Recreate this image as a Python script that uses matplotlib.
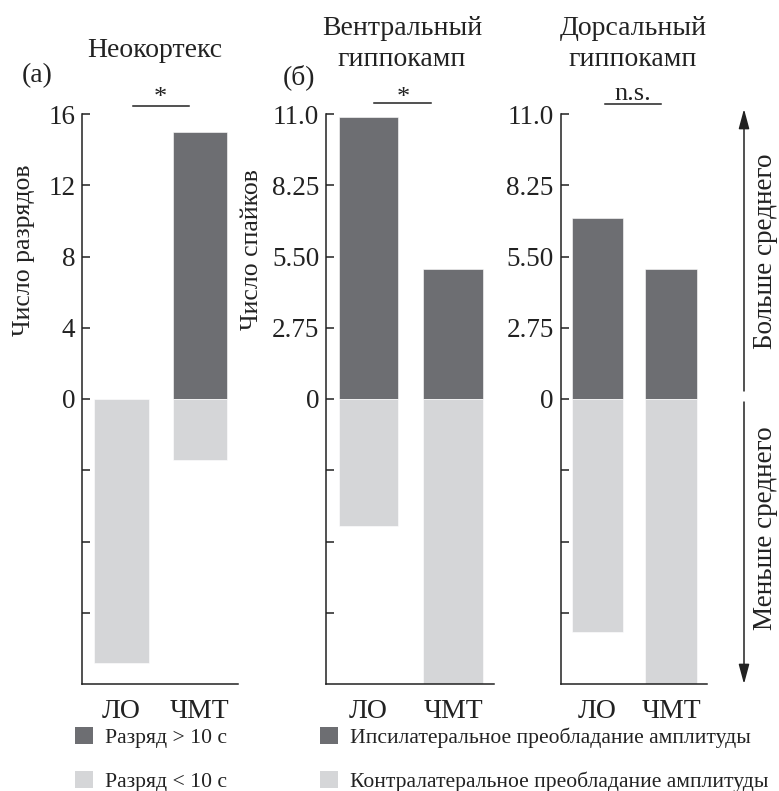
import matplotlib
matplotlib.use("Agg")
import matplotlib.pyplot as plt
from matplotlib.patches import Patch, FancyArrowPatch

plt.rcParams['font.family'] = ['Liberation Serif', 'DejaVu Serif']

# ---- data ----
groups = ['ЛО', 'ЧМТ']
neo_pos = [0, 15]          # разряд > 10 с
neo_neg = [-14.8, -3.4]    # разряд < 10 с
vent_pos = [10.9, 5.0]     # ипсилатеральное
vent_neg = [-4.9, -11.0]   # контралатеральное
dors_pos = [7.0, 5.0]
dors_neg = [-9.0, -11.0]

neo_ticks = [-12, -8, -4, 0, 4, 8, 12, 16]
neo_ticklabels = ['', '', '', '0', '4', '8', '12', '16']
hip_ticks = [-8.25, -5.5, -2.75, 0, 2.75, 5.5, 8.25, 11.0]
hip_ticklabels = ['', '', '', '0', '2.75', '5.50', '8.25', '11.0']

titles = ['Неокортекс', 'Вентральный\nгиппокамп', 'Дорсальный\nгиппокамп']
signif = ['*', '*', 'n.s.']
legend1 = ['Разряд > 10 с', 'Разряд < 10 с']
legend2 = ['Ипсилатеральное преобладание амплитуды',
           'Контралатеральное преобладание амплитуды']

DARK = '#6d6e72'
LIGHT = '#d5d6d8'
INK = '#222222'

W, H = 779, 791
fig = plt.figure(figsize=(W / 100, H / 100), dpi=100)


def fx(x):
    return x / W


def fy(y):
    return 1 - y / H


TOP, BOT = 114, 684
XL = (-0.5, 1.485)


def make_ax(center0, spacing):
    left = center0 - 0.5 * spacing
    width = (XL[1] - XL[0]) * spacing
    return fig.add_axes([fx(left), fy(BOT), width / W, (BOT - TOP) / H])


axes = [make_ax(121.5, 78.5), make_ax(368.5, 84.5), make_ax(597.5, 73.5)]
data = [(neo_pos, neo_neg, 16, neo_ticks, neo_ticklabels),
        (vent_pos, vent_neg, 11, hip_ticks, hip_ticklabels),
        (dors_pos, dors_neg, 11, hip_ticks, hip_ticklabels)]

for ax, (pos, neg, lim, ticks, tlabels) in zip(axes, data):
    x = list(range(len(groups)))
    ax.bar(x, pos, width=0.7, color=DARK, edgecolor='white', linewidth=0.4)
    ax.bar(x, neg, width=0.7, color=LIGHT, edgecolor='white', linewidth=0.4)
    ax.set_xlim(*XL)
    ax.set_ylim(-lim, lim)
    ax.set_yticks(ticks)
    ax.set_yticklabels(tlabels)
    ax.set_xticks(x)
    ax.set_xticklabels(groups)
    for s in ['top', 'right']:
        ax.spines[s].set_visible(False)
    for s in ['left', 'bottom']:
        ax.spines[s].set_linewidth(1.1)
        ax.spines[s].set_color(INK)
    ax.tick_params(axis='y', direction='in', length=6, width=1.1,
                   labelsize=19.5, pad=5, colors=INK)
    ax.tick_params(axis='x', length=0, labelsize=20, pad=11, colors=INK)

# significance lines (line y, text baseline y)
sig_specs = [(0.146, 0.86, 16.45, 0.50, 16.55),
             (0.065, 0.74, 11.42, 0.41, 11.40),
             (0.10, 0.87, 11.39, 0.48, 11.54)]
for ax, (x0, x1, yl, xt, yt), s in zip(axes, sig_specs, signif):
    ax.plot([x0, x1], [yl, yl], color=INK, lw=1.1, clip_on=False)
    ax.text(xt, yt, s, ha='center', va='baseline', fontsize=19,
            color=INK, clip_on=False)

# titles
fig.text(fx(155), fy(57), titles[0], ha='center', va='baseline', fontsize=20, color=INK)
fig.text(fx(402), fy(66), titles[1], ha='center', va='baseline', fontsize=20,
         color=INK, linespacing=1.3, multialignment='center')
fig.text(fx(633), fy(66), titles[2], ha='center', va='baseline', fontsize=20,
         color=INK, linespacing=1.3, multialignment='center')
fig.text(fx(37), fy(76), '(а)', ha='center', va='center', fontsize=20, color=INK)
fig.text(fx(299), fy(77), '(б)', ha='center', va='center', fontsize=20, color=INK)

# y labels
fig.text(fx(24), fy(250), 'Число разрядов', rotation=90, ha='center', va='center',
         fontsize=18.5, color=INK)
fig.text(fx(252), fy(250), 'Число спайков', rotation=90, ha='center', va='center',
         fontsize=18.5, color=INK)

# right arrows
astyle = '-|>,head_length=1.0,head_width=0.27'
fig.add_artist(FancyArrowPatch(
    (fx(744), fy(391)), (fx(744), fy(109)), transform=fig.transFigure,
    arrowstyle=astyle, mutation_scale=12, lw=1.1, color=INK, shrinkA=0, shrinkB=0))
fig.add_artist(FancyArrowPatch(
    (fx(744), fy(402)), (fx(744), fy(684)), transform=fig.transFigure,
    arrowstyle=astyle, mutation_scale=12, lw=1.1, color=INK, shrinkA=0, shrinkB=0))
fig.text(fx(766), fy(251), 'Больше среднего', rotation=90, ha='center', va='center',
         fontsize=19.5, color=INK)
fig.text(fx(766), fy(528), 'Меньше среднего', rotation=90, ha='center', va='center',
         fontsize=19.5, color=INK)

# legends
h = [Patch(facecolor=DARK, edgecolor='none'), Patch(facecolor=LIGHT, edgecolor='none')]
leg_kw = dict(frameon=False, fontsize=15.6, handlelength=0.83, handleheight=0.83,
              handletextpad=0.55, labelspacing=1.08, borderpad=0, borderaxespad=0,
              loc='upper left', labelcolor=INK)
fig.legend(h, legend1, bbox_to_anchor=(fx(75), fy(727)), **leg_kw)
fig.legend(h, legend2, bbox_to_anchor=(fx(320), fy(727)), **leg_kw)

fig.savefig('out.png', dpi=100)
